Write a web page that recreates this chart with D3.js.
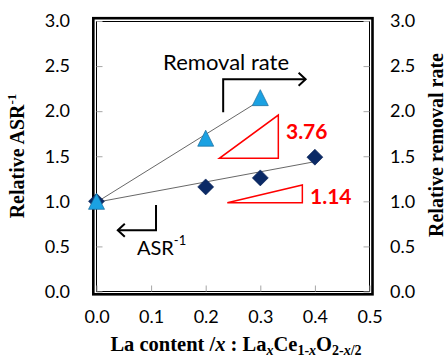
<!DOCTYPE html>
<html><head><meta charset="utf-8">
<script src="https://cdn.jsdelivr.net/npm/d3@7"></script>
<style>body{margin:0;background:#fff}svg{display:block}</style>
</head><body><svg id="c" width="448" height="360"></svg>
<script>
// ---- data ----
const xTicks = [0, 0.1, 0.2, 0.3, 0.4, 0.5];
const yTicks = [0, 0.5, 1.0, 1.5, 2.0, 2.5, 3.0];
const removalX = [0, 0.2, 0.3];
const removalY = [1.0, 1.70, 2.15];
const asrX = [0, 0.2, 0.3, 0.4];
const asrY = [1.0, 1.16, 1.26, 1.49];
const removalFitX = [0, 0.3];
const removalFitY = [0.99, 2.12];
const asrFitX = [0, 0.4];
const asrFitY = [0.99, 1.44];
const slopeLabels = ["3.76", "1.14"];
const slopeTriX = [[0.225, 0.333], [0.2396, 0.377]];
const slopeTriY = [[1.477, 1.957], [0.985, 1.181]];
const slopeLabelPos = [[0.347, 1.772], [0.391, 1.059]];
const removalArrowX = [0.232, 0.232, 0.383];
const removalArrowY = [1.987, 2.353, 2.353];
const asrArrowX = [0.109, 0.109, 0.039];
const asrArrowY = [0.96, 0.68, 0.68];

// ---- layout ----
const svg = d3.select("#c");
const L = 96.5, R = 369.5, T = 21, B = 291.5;
const x = d3.scaleLinear().domain([0, 0.5]).range([L, R]);
const y = d3.scaleLinear().domain([0, 3]).range([B, T]);
const sans = "Lato, 'Open Sans', sans-serif";
const serif = "'Liberation Serif', 'Times New Roman', serif";

// frame: thick outer + thin inner
svg.append("rect").attr("x", L - 3.2).attr("y", T - 2.8).attr("width", R - L + 6.2).attr("height", B - T + 5.6)
  .attr("fill", "none").attr("stroke", "#000").attr("stroke-width", 2.6);
svg.append("rect").attr("x", L).attr("y", T + 0.5).attr("width", R - L).attr("height", B - T - 0.5)
  .attr("fill", "none").attr("stroke", "#000").attr("stroke-width", 1);

// axes
function styleAxis(g) {
  g.select(".domain").remove();
  g.selectAll(".tick line").attr("stroke", "#a6a6a6").attr("stroke-width", 1);
  g.selectAll(".tick text").attr("font-family", sans).attr("font-size", 18).attr("fill", "#000");
}
const fmt = d3.format(".1f");
svg.append("g").attr("transform", `translate(0,${B})`)
  .call(d3.axisBottom(x).tickValues(xTicks).tickFormat(fmt).tickSizeInner(-6).tickSizeOuter(0).tickPadding(19))
  .call(styleAxis);
svg.append("g").attr("transform", `translate(${L},0)`)
  .call(d3.axisLeft(y).tickValues(yTicks).tickFormat(fmt).tickSizeInner(-6).tickSizeOuter(0).tickPadding(26.5))
  .call(styleAxis);
svg.append("g").attr("transform", `translate(${R},0)`)
  .call(d3.axisRight(y).tickValues(yTicks).tickFormat(fmt).tickSizeInner(-6).tickSizeOuter(0).tickPadding(20.5))
  .call(styleAxis);

// fit lines
const line = d3.line().x(d => x(d[0])).y(d => y(d[1]));
svg.append("path").attr("d", line(d3.zip(removalFitX, removalFitY)))
  .attr("fill", "none").attr("stroke", "#404040").attr("stroke-width", 0.8);
svg.append("path").attr("d", line(d3.zip(asrFitX, asrFitY)))
  .attr("fill", "none").attr("stroke", "#404040").attr("stroke-width", 0.8);

// slope triangles
slopeTriX.forEach((tx, i) => {
  const ty = slopeTriY[i];
  const pts = [[tx[0], ty[0]], [tx[1], ty[0]], [tx[1], ty[1]]];
  svg.append("path").attr("d", line(pts) + "Z")
    .attr("fill", "none").attr("stroke", "#ff0000").attr("stroke-width", 1.5);
  svg.append("text").attr("x", x(slopeLabelPos[i][0])).attr("y", y(slopeLabelPos[i][1]))
    .attr("dy", "0.36em").attr("font-family", sans).attr("font-weight", "bold")
    .attr("font-size", 21).attr("fill", "#ff0000").text(slopeLabels[i]);
});

// diamonds (ASR^-1)
const ds = 8;
svg.append("g").selectAll("path").data(d3.zip(asrX, asrY)).join("path")
  .attr("transform", d => `translate(${x(d[0])},${y(d[1])})`)
  .attr("d", `M0,${-ds}L${ds},0L0,${ds}L${-ds},0Z`)
  .attr("fill", "#0b2a66").attr("stroke", "#0a2256").attr("stroke-width", 0.6);

// triangles (removal rate)
svg.append("g").selectAll("path").data(d3.zip(removalX, removalY)).join("path")
  .attr("transform", d => `translate(${x(d[0])},${y(d[1])})`)
  .attr("d", "M0,-8L8,8L-8,8Z")
  .attr("fill", "#1ba1e2").attr("stroke", "#1a6a9a").attr("stroke-width", 0.7);

// annotation arrows
function arrow(ax, ay, dir) {
  const pts = d3.zip(ax, ay);
  svg.append("path").attr("d", line(pts)).attr("fill", "none")
    .attr("stroke", "#000").attr("stroke-width", 2);
  const end = pts[pts.length - 1];
  const ex = x(end[0]), ey = y(end[1]);
  const k = 7 * dir;
  svg.append("path").attr("d", `M${ex - k},${ey - 6.5}L${ex},${ey}L${ex - k},${ey + 6.5}`)
    .attr("fill", "none").attr("stroke", "#000").attr("stroke-width", 2);
}
arrow(removalArrowX, removalArrowY, 1);
arrow(asrArrowX, asrArrowY, -1);

svg.append("text").attr("x", x(0.122)).attr("y", y(2.545)).attr("dy", "0.36em")
  .attr("font-family", sans).attr("font-size", 22).text("Removal rate");
const asrT = svg.append("text").attr("x", x(0.074)).attr("y", y(0.482)).attr("dy", "0.36em")
  .attr("font-family", sans).attr("font-size", 20);
asrT.append("tspan").text("ASR");
asrT.append("tspan").attr("font-size", 13).attr("dy", "-0.75em").text("-1");

// axis titles
const yt = svg.append("text").attr("transform", "translate(24,156) rotate(-90)")
  .attr("text-anchor", "middle").attr("font-family", serif).attr("font-weight", "bold").attr("font-size", 20);
yt.append("tspan").text("Relative ASR");
yt.append("tspan").attr("font-size", 13).attr("dy", -8).text("-1");

svg.append("text").attr("transform", "translate(443,145) rotate(-90)")
  .attr("text-anchor", "middle").attr("font-family", serif).attr("font-weight", "bold").attr("font-size", 20)
  .text("Relative removal rate");

const xt = svg.append("text").attr("x", 236).attr("y", 351).attr("text-anchor", "middle")
  .attr("font-family", serif).attr("font-weight", "bold").attr("font-size", 20.5);
xt.append("tspan").text("La content /");
xt.append("tspan").attr("font-style", "italic").text("x");
xt.append("tspan").text(" : La");
xt.append("tspan").attr("font-style", "italic").attr("font-size", 14).attr("dy", 4).text("x");
xt.append("tspan").attr("dy", -4).text("Ce");
xt.append("tspan").attr("font-size", 14).attr("dy", 4).text("1-");
xt.append("tspan").attr("font-style", "italic").attr("font-size", 14).text("x");
xt.append("tspan").attr("dy", -4).text("O");
xt.append("tspan").attr("font-size", 14).attr("dy", 4).text("2-");
xt.append("tspan").attr("font-style", "italic").attr("font-size", 14).text("x");
xt.append("tspan").attr("font-size", 14).text("/2");
</script></body></html>
